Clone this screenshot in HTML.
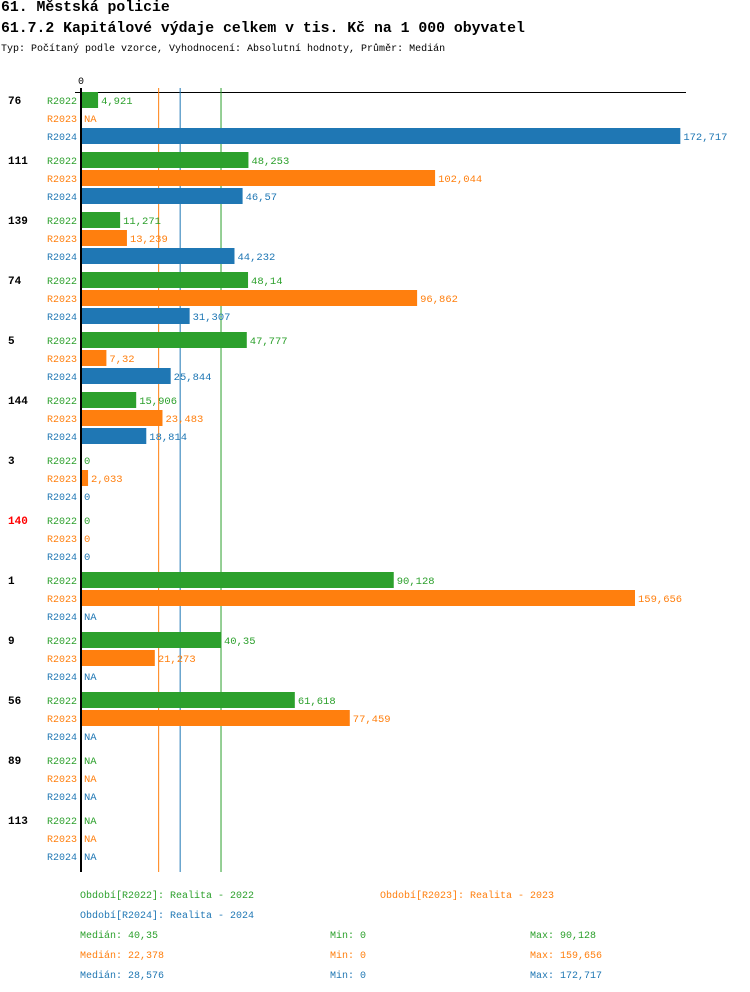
<!DOCTYPE html>
<html><head><meta charset="utf-8"><style>
body{margin:0;background:#fff;width:750px;height:992px;overflow:hidden;font-family:"Liberation Mono","DejaVu Sans Mono",monospace}
.t{position:absolute;white-space:nowrap}
</style></head><body>
<div class="t" style="left:1px;top:0px;font-size:14.8px;font-weight:bold">61. Městská policie</div>
<div class="t" style="left:1px;top:21px;font-size:14.8px;font-weight:bold">61.7.2 Kapitálové výdaje celkem v tis. Kč na 1 000 obyvatel</div>
<div class="t" style="left:1px;top:44px;font-size:10px">Typ: Počítaný podle vzorce, Vyhodnocení: Absolutní hodnoty, Průměr: Medián</div>
<svg id="c" width="750" height="992" style="position:absolute;left:0;top:0"></svg>
<script>
const groups=["76","111","139","74","5","144","3","140","1","9","56","89","113"];
const series=["R2022","R2023","R2024"];
const colors=["#2ca02c","#ff7f0e","#1f77b4"];
const v2022=[4.921,48.253,11.271,48.14,47.777,15.906,0,0,90.128,40.35,61.618,null,null];
const v2023=[null,102.044,13.239,96.862,7.32,23.483,2.033,0,159.656,21.273,77.459,null,null];
const v2024=[172.717,46.57,44.232,31.307,25.844,18.814,0,0,null,null,null,null,null];
const medians=[40.35,22.378,28.576];
const mins=[0,0,0];
const maxs=["90,128","159,656","172,717"];
const medLabels=["40,35","22,378","28,576"];
const vals=[v2022,v2023,v2024];
const svg=document.getElementById('c');const NS="http://www.w3.org/2000/svg";
const x=v=>81+v*3.47;
const rowY=(g,s)=>100+g*60+s*18;
function el(t,a,txt){const e=document.createElementNS(NS,t);for(const k in a)e.setAttribute(k,a[k]);if(txt!=null)e.textContent=txt;svg.appendChild(e);return e;}
const fmt=v=>String(v).replace('.',',');
let e=el('line',{x1:75,y1:92.5,x2:686,y2:92.5,stroke:'#000','stroke-width':1});

e=el('text',{x:81,y:84,'font-size':10,'text-anchor':'middle','font-family':'Liberation Mono,monospace'},'0');

medians.forEach((m,i)=>{const l=el('line',{x1:x(m),y1:88,x2:x(m),y2:872,stroke:colors[i],'stroke-width':1});

});
groups.forEach((g,gi)=>{
 const gl=el('text',{x:8,y:rowY(gi,0)+4,'font-size':11,'font-weight':'bold',fill:g==="140"?'#ff0000':'#000','font-family':'Liberation Mono,monospace'},g);
 
 
 series.forEach((s,si)=>{
  const y=rowY(gi,si);const v=vals[si][gi];
  const sl=el('text',{x:77,y:y+4,'font-size':10,'text-anchor':'end',fill:colors[si],'font-family':'Liberation Mono,monospace'},s);
  
  
  let tx=84;
  if(v!=null&&v>0){const r=el('rect',{x:82,y:y-8,width:Math.max(0,x(v)-82),height:16,fill:colors[si]});
   
   
   tx=x(v)+3;}
  const vl=el('text',{x:tx,y:y+4,'font-size':10.5,fill:colors[si],'font-family':'Liberation Mono,monospace'},v==null?'NA':fmt(v));
  
  
 });
});
e=el('line',{x1:81,y1:88,x2:81,y2:872,stroke:'#000','stroke-width':2});

const T=(tx,ty,c,s,n)=>{const t=el('text',{x:tx,y:ty,'font-size':10,fill:c,'font-family':'Liberation Mono,monospace'},s);};
T(80,898,colors[0],'Období[R2022]: Realita - 2022','legend-entry-r2022');
T(380,898,colors[1],'Období[R2023]: Realita - 2023','legend-entry-r2023');
T(80,918,colors[2],'Období[R2024]: Realita - 2024','legend-entry-r2024');
for(let i=0;i<3;i++){const y=938+i*20;
 T(80,y,colors[i],'Medián: '+medLabels[i],'median-stat');
 T(330,y,colors[i],'Min: '+mins[i],'min-stat');
 T(530,y,colors[i],'Max: '+maxs[i],'max-stat');}
</script>
</body></html>
